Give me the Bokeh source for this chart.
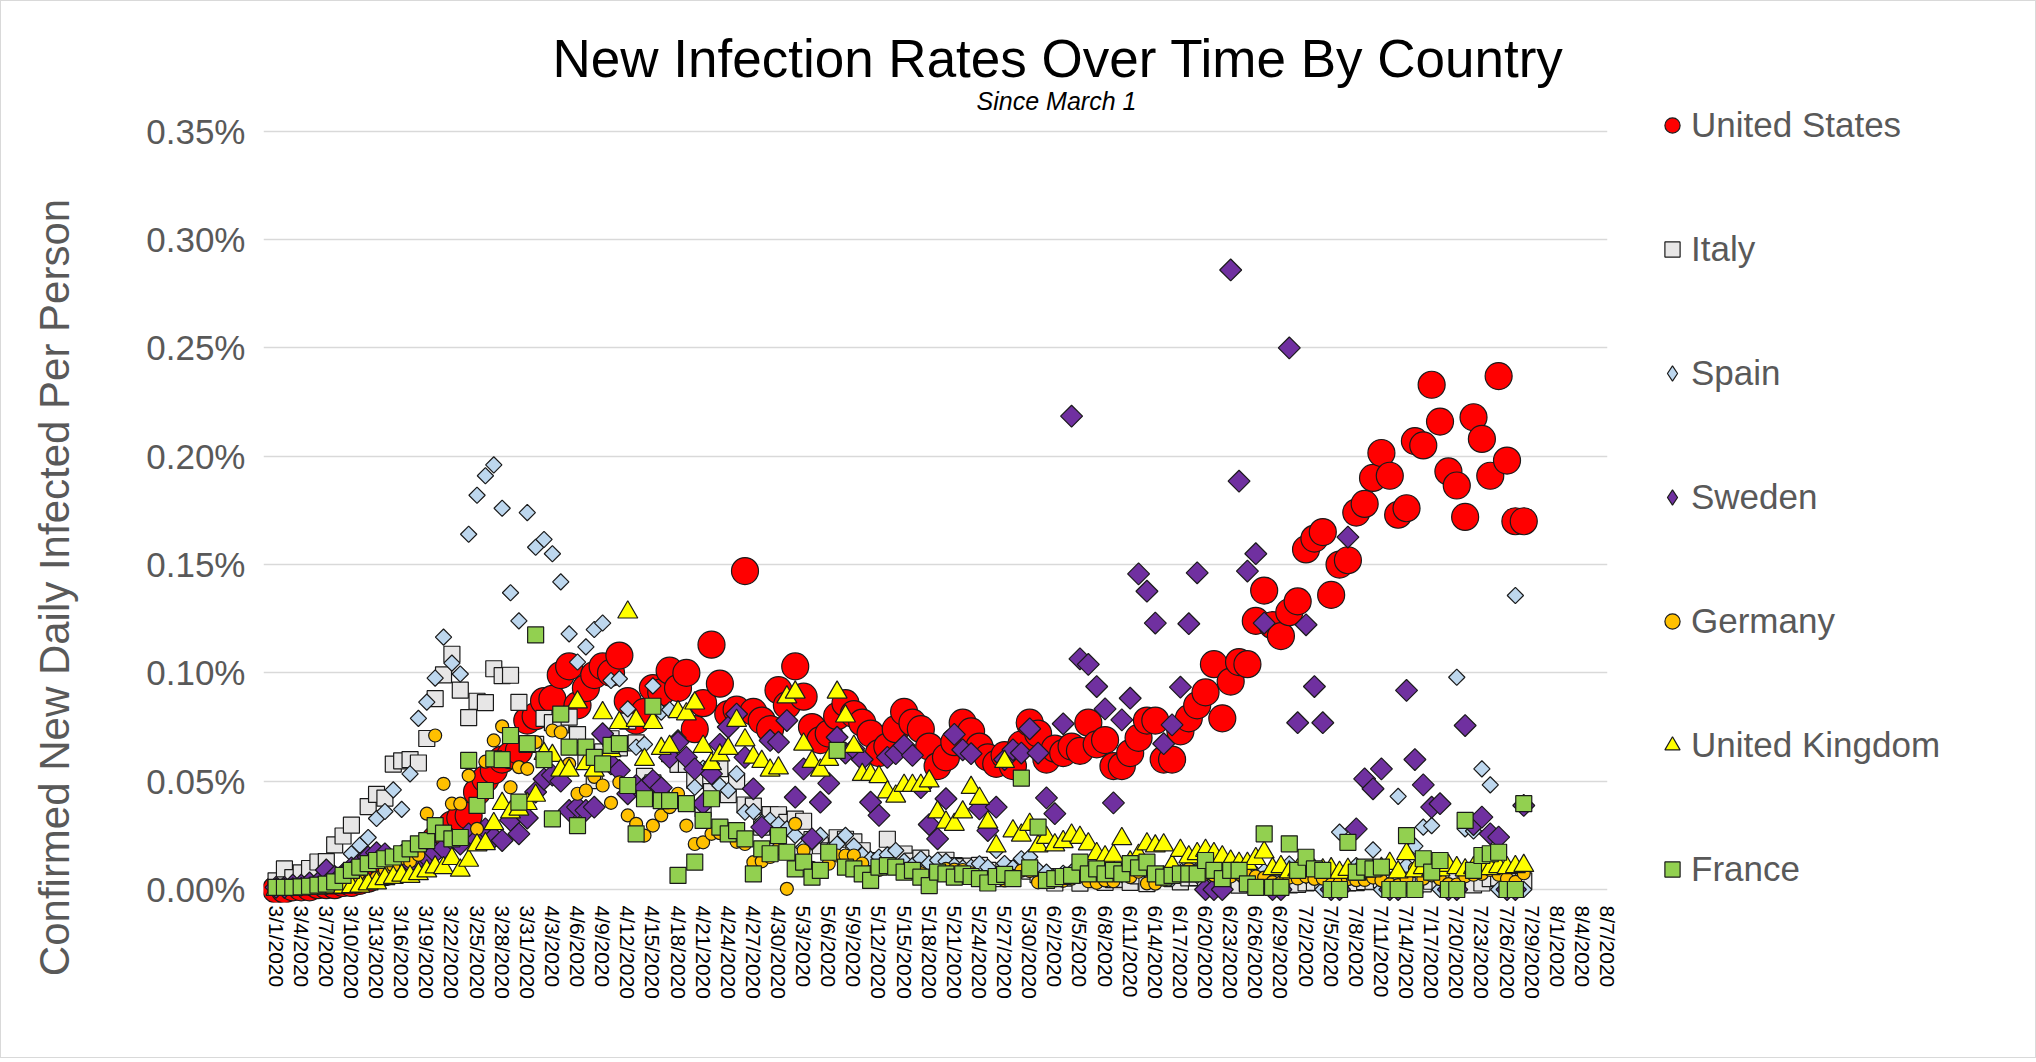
import math
import datetime
from bokeh.plotting import figure
from bokeh.layouts import row
from bokeh.models import (Range1d, FixedTicker, PrintfTickFormatter, Legend, LegendItem,
                          Label, ColumnDataSource)
from bokeh.embed import file_html
from bokeh.resources import INLINE

# ---------------- data (values in %, one value per day starting 3/1/2020) ----------------
START_DATE = datetime.date(2020, 3, 1)
TICK_STEP_DAYS = 3
LAST_TICK_DAY = 159  # 8/7/2020

united_states = [
    0.000, 0.000, 0.001, 0.001, 0.001, 0.002, 0.002, 0.002, 0.003, 0.003,
    0.004, 0.005, 0.007, 0.008, 0.009, 0.011, 0.013, 0.016, 0.019, 0.023,
    0.027, 0.030, 0.033, 0.034, 0.045, 0.051, 0.055, 0.060, 0.062, 0.064,
    0.078, 0.080, 0.087, 0.088, 0.099, 0.103, 0.085, 0.093, 0.099, 0.103,
    0.100, 0.108, 0.087, 0.078, 0.082, 0.093, 0.091, 0.101, 0.093, 0.100,
    0.074, 0.086, 0.113, 0.095, 0.081, 0.083, 0.147, 0.082, 0.078, 0.074,
    0.092, 0.085, 0.103, 0.089, 0.075, 0.069, 0.072, 0.080, 0.086, 0.081,
    0.077, 0.072, 0.063, 0.066, 0.074, 0.082, 0.077, 0.074, 0.066, 0.057,
    0.061, 0.068, 0.077, 0.073, 0.066, 0.061, 0.058, 0.062, 0.057, 0.067,
    0.077, 0.072, 0.060, 0.065, 0.063, 0.066, 0.064, 0.077, 0.067, 0.069,
    0.057, 0.057, 0.063, 0.070, 0.078, 0.078, 0.060, 0.060, 0.073, 0.079,
    0.085, 0.091, 0.104, 0.079, 0.096, 0.105, 0.104, 0.124, 0.138, 0.122,
    0.117, 0.128, 0.133, 0.157, 0.162, 0.165, 0.136, 0.150, 0.152, 0.174,
    0.178, 0.190, 0.2015, 0.191, 0.173, 0.176, 0.207, 0.205, 0.233, 0.216,
    0.193, 0.1865, 0.172, 0.218, 0.208, 0.191, 0.237, 0.198, 0.170, 0.170,
]

italy = [
    0.004, 0.0095, 0.0055, 0.0077, 0.0097, 0.0127, 0.0129, 0.0206, 0.0247, 0.0297,
    0.0162, 0.0383, 0.0439, 0.0422, 0.0579, 0.0594, 0.0600, 0.0584, 0.0697, 0.0881,
    0.0991, 0.1086, 0.092, 0.0793, 0.0869, 0.0863, 0.1019, 0.0987, 0.0989, 0.0864,
    0.067, 0.067, 0.079, 0.077, 0.076, 0.0796, 0.0715, 0.0596, 0.0503, 0.0635,
    0.0696, 0.0654, 0.0777, 0.0677, 0.0522, 0.0492, 0.0442, 0.0627, 0.0578, 0.0578,
    0.0504, 0.0373, 0.0452, 0.0558, 0.0438, 0.05, 0.039, 0.0385, 0.0288, 0.0346,
    0.0345, 0.031, 0.0325, 0.0315, 0.023, 0.0202, 0.0178, 0.0239, 0.0232, 0.022,
    0.0179, 0.0133, 0.0123, 0.0232, 0.0147, 0.0164, 0.0131, 0.0145, 0.0112, 0.0075,
    0.0135, 0.011, 0.0106, 0.0108, 0.0111, 0.0088, 0.005, 0.0066, 0.0097, 0.0098,
    0.0085, 0.0069, 0.0059, 0.003, 0.0053, 0.0053, 0.0029, 0.0086, 0.0045, 0.0033,
    0.0046, 0.0047, 0.0033, 0.0063, 0.0027, 0.0057, 0.0056, 0.005, 0.0035, 0.0054,
    0.0055, 0.0042, 0.0043, 0.0037, 0.0036, 0.002, 0.0031, 0.0049, 0.0043, 0.0029,
    0.0029, 0.0021, 0.0024, 0.0031, 0.0033, 0.0037, 0.004, 0.0039, 0.0031, 0.0032,
    0.0036, 0.0038, 0.0046, 0.0031, 0.0039, 0.0019, 0.0019, 0.0026, 0.0038, 0.0039,
    0.0039, 0.0043, 0.0036, 0.0021, 0.0030, 0.0050, 0.0054, 0.0041, 0.0042, 0.0040,
]

spain = [
    0.0005, 0.0005, 0.001, 0.001, 0.001, 0.002, 0.003, 0.004, 0.008, 0.0165,
    0.0204, 0.024, 0.0328, 0.036, 0.046, 0.037, 0.0534, 0.079, 0.0865, 0.0976,
    0.1165, 0.1045, 0.0995, 0.164, 0.182, 0.191, 0.196, 0.176, 0.137, 0.124,
    0.174, 0.158, 0.1616, 0.155, 0.142, 0.118, 0.105, 0.112, 0.120, 0.123,
    0.0965, 0.0973, 0.0834, 0.0657, 0.067, 0.094, 0.0819, 0.083, 0.070, 0.060,
    0.0472, 0.056, 0.058, 0.048, 0.0457, 0.0534, 0.0357, 0.036, 0.031, 0.032,
    0.030, 0.028, 0.025, 0.0195, 0.022, 0.025, 0.018, 0.021, 0.025, 0.020,
    0.016, 0.014, 0.015, 0.016, 0.018, 0.013, 0.011, 0.0142, 0.012, 0.0135,
    0.013, 0.011, 0.010, 0.0103, 0.0119, 0.0103, 0.018, 0.012, 0.010, 0.0142,
    0.015, 0.009, 0.008, 0.006, 0.0075, 0.008, 0.0065, 0.007, 0.0085, 0.006,
    0.005, 0.0068, 0.0082, 0.0102, 0.0087, 0.0063, 0.0072, 0.005, 0.0078, 0.0125,
    0.0065, 0.008, 0.006, 0.0055, 0.0070, 0.0072, 0.0064, 0.0071, 0.0084, 0.0,
    0.0, 0.0118, 0.0082, 0.0064, 0.0070, 0.0, 0.0, 0.0265, 0.0072, 0.0110,
    0.0080, 0.0183, 0.0, 0.0, 0.043, 0.011, 0.020, 0.0288, 0.0295, 0.0,
    0.0, 0.098, 0.028, 0.027, 0.0557, 0.0483, 0.0, 0.0, 0.1357, 0.0,
]

sweden = [
    0.001, 0.001, 0.002, 0.002, 0.003, 0.003, 0.009, 0.006, 0.007, 0.010,
    0.012, 0.015, 0.017, 0.0165, 0.012, 0.0157, 0.0126, 0.014, 0.015, 0.017,
    0.019, 0.023, 0.021, 0.0257, 0.023, 0.028, 0.024, 0.0226, 0.032, 0.0257,
    0.033, 0.045, 0.051, 0.0528, 0.050, 0.0365, 0.038, 0.0365, 0.038, 0.0719,
    0.058, 0.055, 0.0442, 0.048, 0.047, 0.0503, 0.047, 0.061, 0.068, 0.061,
    0.0557, 0.0396, 0.0534, 0.067, 0.075, 0.081, 0.061, 0.0465, 0.0288, 0.0688,
    0.068, 0.078, 0.0426, 0.0557, 0.0234, 0.0403, 0.049, 0.0703, 0.063, 0.065,
    0.060, 0.0403, 0.0342, 0.061, 0.0627, 0.0665, 0.0619, 0.047, 0.030, 0.0234,
    0.0419, 0.0716, 0.0645, 0.0627, 0.0372, 0.0272, 0.038, 0.060, 0.0645, 0.063,
    0.0742, 0.063, 0.0423, 0.035, 0.0765, 0.2185, 0.1065, 0.1039, 0.0937, 0.0834,
    0.040, 0.0783, 0.0883, 0.1457, 0.1377, 0.123, 0.0673, 0.076, 0.0934, 0.1227,
    0.1462, 0.0, 0.0, 0.0, 0.286, 0.1885, 0.147, 0.155, 0.123, 0.0,
    0.0, 0.250, 0.077, 0.1222, 0.0937, 0.077, 0.0, 0.0, 0.1627, 0.028,
    0.0511, 0.0465, 0.0557, 0.0, 0.0, 0.0919, 0.060, 0.0483, 0.038, 0.0396,
    0.0, 0.0, 0.0757, 0.030, 0.0334, 0.0257, 0.0242, 0.0, 0.0, 0.0388,
]

germany = [
    0.0007, 0.0005, 0.0005, 0.001, 0.0006, 0.001, 0.001, 0.002, 0.0025, 0.0017,
    0.004, 0.0034, 0.0055, 0.009, 0.011, 0.0145, 0.013, 0.016, 0.035, 0.0711,
    0.0488, 0.0396, 0.0396, 0.0526, 0.028, 0.059, 0.0688, 0.0753, 0.0472, 0.0565,
    0.0557, 0.068, 0.062, 0.0734, 0.0726, 0.058, 0.0442, 0.0457, 0.052, 0.048,
    0.040, 0.0495, 0.0342, 0.0303, 0.0249, 0.0295, 0.0342, 0.038, 0.0442, 0.0295,
    0.021, 0.0218, 0.0257, 0.026, 0.028, 0.022, 0.021, 0.0126, 0.013, 0.015,
    0.019, 0.0003, 0.0303, 0.018, 0.010, 0.0085, 0.0119, 0.0157, 0.0157, 0.0157,
    0.012, 0.008, 0.009, 0.011, 0.010, 0.009, 0.008, 0.0075, 0.005, 0.0075,
    0.0095, 0.0092, 0.009, 0.0075, 0.0055, 0.0052, 0.006, 0.0042, 0.0063, 0.0087,
    0.0085, 0.0033, 0.0036, 0.0042, 0.004, 0.005, 0.0065, 0.0038, 0.0031, 0.0042,
    0.0038, 0.0068, 0.0057, 0.0082, 0.0028, 0.0027, 0.0045, 0.0055, 0.0070, 0.0095,
    0.0085, 0.0073, 0.0065, 0.0063, 0.0060, 0.0072, 0.0065, 0.0060, 0.0055, 0.0034,
    0.0032, 0.0055, 0.0051, 0.0060, 0.0049, 0.0050, 0.0023, 0.0030, 0.0048, 0.0043,
    0.0044, 0.0055, 0.0042, 0.0025, 0.0020, 0.0050, 0.0097, 0.0050, 0.0065, 0.0048,
    0.0025, 0.0023, 0.0061, 0.0068, 0.0072, 0.0090, 0.0068, 0.0050, 0.0035, 0.0075,
]

united_kingdom = [
    0.0, 0.0, 0.0002, 0.0003, 0.0004, 0.0005, 0.0007, 0.0008, 0.001, 0.0012,
    0.0015, 0.0025, 0.003, 0.0049, 0.0055, 0.0065, 0.006, 0.0072, 0.0085, 0.0103,
    0.010, 0.0142, 0.0088, 0.0134, 0.0205, 0.0211, 0.0303, 0.0396, 0.0357, 0.037,
    0.0396, 0.0434, 0.0627, 0.0618, 0.055, 0.055, 0.0865, 0.058, 0.055, 0.0815,
    0.064, 0.077, 0.128, 0.078, 0.060, 0.077, 0.065, 0.066, 0.082, 0.081,
    0.086, 0.066, 0.058, 0.062, 0.065, 0.078, 0.069, 0.061, 0.059, 0.055,
    0.056, 0.0888, 0.091, 0.067, 0.059, 0.055, 0.060, 0.091, 0.080, 0.066,
    0.053, 0.053, 0.052, 0.045, 0.043, 0.048, 0.048, 0.048, 0.050, 0.0357,
    0.031, 0.030, 0.0357, 0.047, 0.042, 0.031, 0.020, 0.059, 0.027, 0.025,
    0.030, 0.020, 0.024, 0.0205, 0.022, 0.025, 0.024, 0.021, 0.0165, 0.015,
    0.0157, 0.0234, 0.0126, 0.0157, 0.021, 0.020, 0.0205, 0.011, 0.018, 0.015,
    0.0165, 0.018, 0.0165, 0.015, 0.013, 0.012, 0.012, 0.0142, 0.0172, 0.0095,
    0.0105, 0.008, 0.009, 0.0100, 0.0088, 0.0090, 0.0095, 0.0078, 0.0092, 0.0070,
    0.0084, 0.0090, 0.0096, 0.0120, 0.0080, 0.0165, 0.0085, 0.0100, 0.0090, 0.0090,
    0.0110, 0.0100, 0.0090, 0.0100, 0.0100, 0.0095, 0.0105, 0.0100, 0.0105, 0.0110,
]

france = [
    0.001, 0.001, 0.001, 0.0012, 0.0015, 0.002, 0.0025, 0.0035, 0.0065, 0.0088,
    0.0103, 0.0119, 0.0134, 0.0142, 0.015, 0.0165, 0.0188, 0.0211, 0.0226, 0.0295,
    0.026, 0.0234, 0.024, 0.0596, 0.0388, 0.0457, 0.0603, 0.060, 0.0711, 0.0403,
    0.0673, 0.1175, 0.060, 0.0326, 0.081, 0.0657, 0.0295, 0.0657, 0.061, 0.058,
    0.0665, 0.0673, 0.048, 0.0257, 0.0419, 0.0846, 0.041, 0.041, 0.0065, 0.0396,
    0.0126, 0.0319, 0.0419, 0.0288, 0.0257, 0.0272, 0.0234, 0.0072, 0.0188, 0.0165,
    0.0249, 0.0172, 0.0095, 0.0126, 0.0057, 0.0088, 0.0172, 0.0642, 0.0103, 0.0095,
    0.0072, 0.0042, 0.0103, 0.011, 0.0103, 0.008, 0.0088, 0.0057, 0.0018, 0.008,
    0.0072, 0.0057, 0.0072, 0.006, 0.005, 0.003, 0.006, 0.007, 0.005, 0.0514,
    0.010, 0.0288, 0.0042, 0.005, 0.006, 0.0065, 0.0126, 0.0072, 0.0095, 0.0072,
    0.0088, 0.0072, 0.0119, 0.010, 0.0126, 0.0072, 0.0057, 0.0065, 0.0072, 0.0072,
    0.0072, 0.0134, 0.0088, 0.005, 0.0088, 0.0088, 0.0026, 0.001, 0.0257, 0.001,
    0.001, 0.0211, 0.0088, 0.0149, 0.0095, 0.0088, 0.0, 0.0, 0.0218, 0.008,
    0.0103, 0.0095, 0.0103, 0.0, 0.0, 0.0249, 0.0, 0.0142, 0.008, 0.0134,
    0.0, 0.0, 0.0319, 0.0088, 0.0157, 0.0165, 0.0172, 0.0, 0.0, 0.0396,
]

countries = ["United States", "Italy", "Spain", "Sweden", "Germany", "United Kingdom", "France"]
series = [united_states, italy, spain, sweden, germany, united_kingdom, france]

y_ticks = [0.00, 0.05, 0.10, 0.15, 0.20, 0.25, 0.30, 0.35]
tick_days = list(range(0, LAST_TICK_DAY + 1, TICK_STEP_DAYS))
tick_labels = {}
for d in tick_days:
    dt = START_DATE + datetime.timedelta(days=d)
    tick_labels[d] = f"{dt.month}/{dt.day}/{dt.year}"

TITLE = "New Infection Rates Over Time By Country"
SUBTITLE = "Since March 1"
Y_TITLE = "Confirmed New Daily Infected Per Person"

# ---------------- styles ----------------
styles = {
    "United States": dict(marker="circle", legend_marker="circle", size=27, fill_color="#FF0000", angle=0.0),
    "Italy": dict(marker="square", legend_marker="square", size=16, fill_color="#E7E6E6", angle=0.0),
    "Spain": dict(marker="square", legend_marker="diamond", size=11.5, fill_color="#BDD7EE", angle=math.pi / 4),
    "Sweden": dict(marker="square", legend_marker="diamond", size=15.5, fill_color="#7030A0", angle=math.pi / 4),
    "Germany": dict(marker="circle", legend_marker="circle", size=13, fill_color="#FFC000", angle=0.0),
    "United Kingdom": dict(marker="triangle", legend_marker="triangle", size=20, fill_color="#FFFF00", angle=0.0),
    "France": dict(marker="square", legend_marker="square", size=16, fill_color="#92D050", angle=0.0),
}
FONT = "Liberation Sans"
OUTLINE = "#1A1A1A"
TOTAL_H = 1056
BORDER_TOP = 20
BORDER_BOTTOM = 155
LEFT_W = 100
MAIN_W = 1526
LEGEND_W = 408


def bare(fig):
    fig.outline_line_color = None
    fig.background_fill_color = "white"
    fig.border_fill_color = "white"


# ---------------- main plot ----------------
p = figure(width=MAIN_W, height=TOTAL_H, output_backend="svg", toolbar_location=None,
           x_range=Range1d(-1.5, 159.0), y_range=Range1d(-0.006, 0.4007),
           min_border_left=162, min_border_right=20,
           min_border_top=BORDER_TOP, min_border_bottom=BORDER_BOTTOM)
bare(p)

sources = []
for name, vals in zip(countries, series):
    st = styles[name]
    src = ColumnDataSource(dict(x=list(range(len(vals))), y=vals))
    sources.append(src)
    p.scatter("x", "y", source=src, marker=st["marker"], size=st["size"], angle=st["angle"],
              fill_color=st["fill_color"], line_color=OUTLINE, line_width=1.2)

p.xaxis.ticker = FixedTicker(ticks=tick_days)
p.xaxis.major_label_overrides = tick_labels
p.xaxis.major_label_orientation = -math.pi / 2
p.xaxis.major_label_text_font = FONT
p.xaxis.major_label_text_font_size = "21px"
p.xaxis.major_label_text_color = "#000000"
p.xaxis.major_label_standoff = 3
p.yaxis.ticker = FixedTicker(ticks=y_ticks)
p.yaxis.formatter = PrintfTickFormatter(format="%.2f%%")
p.yaxis.major_label_text_font = FONT
p.yaxis.major_label_text_font_size = "35px"
p.yaxis.major_label_text_color = "#595959"
p.yaxis.major_label_standoff = 18
for ax in (p.xaxis, p.yaxis):
    ax.axis_line_color = None
    ax.major_tick_line_color = None
    ax.minor_tick_line_color = None
    ax.major_tick_out = 0
    ax.major_tick_in = 0

p.xgrid.grid_line_color = None
p.ygrid.ticker = FixedTicker(ticks=y_ticks)
p.ygrid.grid_line_color = "#D9D9D9"
p.ygrid.grid_line_width = 1.5

p.add_layout(Label(x=93.4, y=0.3836, text=TITLE, text_font=FONT, text_font_size="53px",
                   text_color="#000000", text_align="center", text_baseline="middle"))
p.add_layout(Label(x=93.2, y=0.3638, text=SUBTITLE, text_font=FONT, text_font_size="25px",
                   text_font_style="italic", text_color="#000000",
                   text_align="center", text_baseline="middle"))

# ---------------- y-axis title panel (own full-height frame, pixel-like units) ----------------
py = figure(width=LEFT_W, height=TOTAL_H, output_backend="svg", toolbar_location=None,
            x_range=Range1d(0, LEFT_W), y_range=Range1d(0, TOTAL_H),
            x_axis_type=None, y_axis_type=None, min_border=0, frame_align=False)
bare(py)
py.grid.visible = False
py.add_layout(Label(x=53, y=TOTAL_H - 586, text=Y_TITLE, angle=math.pi / 2,
                    text_font=FONT, text_font_size="42px", text_color="#595959",
                    text_align="center", text_baseline="middle"))

# ---------------- legend panel ----------------
pl = figure(width=LEGEND_W, height=TOTAL_H, output_backend="svg", toolbar_location=None,
            x_range=Range1d(-2, -1), y_range=Range1d(-2, -1),
            x_axis_type=None, y_axis_type=None, min_border_left=0, min_border_right=0,
            min_border_top=BORDER_TOP, min_border_bottom=BORDER_BOTTOM)
bare(pl)
pl.grid.visible = False
items = []
for name, src in zip(countries, sources):
    st = styles[name]
    r = pl.scatter("x", "y", source=src, marker=st["legend_marker"], size=16,
                   fill_color=st["fill_color"], line_color=OUTLINE, line_width=1.2)
    items.append(LegendItem(label=name, renderers=[r]))
# legend height = 7 items * 40 + 6 gaps * 84 = 784; its top should sit 104px below the top
legend = Legend(items=items, location=(26, 13), orientation="vertical",
                margin=0, padding=0, spacing=84, glyph_width=38, glyph_height=40,
                label_height=40, label_standoff=0, label_text_font=FONT,
                label_text_font_size="35px", label_text_color="#595959",
                background_fill_alpha=0, border_line_color=None)
pl.add_layout(legend)

layout = row(py, p, pl)
layout.styles = {"border": "1px solid #D9D9D9"}

open("out.html", "w").write(file_html(layout, INLINE))
